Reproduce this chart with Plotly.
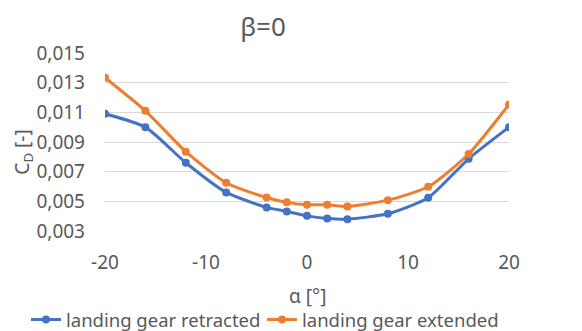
import plotly.graph_objects as go

alpha = [-20, -16, -12, -8, -4, -2, 0, 2, 4, 8, 12, 16, 20]
cd_retracted = [0.0109, 0.0100, 0.0076, 0.0056, 0.00459, 0.00432, 0.00402, 0.00385, 0.0038, 0.00416, 0.00524, 0.00787, 0.0100]
cd_extended = [0.01333, 0.0111, 0.00835, 0.00625, 0.00526, 0.00493, 0.00477, 0.00477, 0.00466, 0.00508, 0.00598, 0.00819, 0.01153]
y_ticks = [0.003, 0.005, 0.007, 0.009, 0.011, 0.013, 0.015]
y_ticklabels = ["0,003", "0,005", "0,007", "0,009", "0,011", "0,013", "0,015"]
x_ticks = [-20, -10, 0, 10, 20]
x_ticklabels = ["-20", "-10", "0", "10", "20"]

FONT = "Noto Sans"
TXT = "#595959"
W, H = 582, 331

fig = go.Figure()
fig.add_trace(go.Scatter(x=alpha, y=cd_retracted, mode="lines+markers",
                         name="landing gear retracted", legend="legend",
                         line=dict(color="#4472C4", width=3, shape="spline", smoothing=0.6),
                         marker=dict(color="#4472C4", size=8)))
fig.add_trace(go.Scatter(x=alpha, y=cd_extended, mode="lines+markers",
                         name="landing gear extended", legend="legend2",
                         line=dict(color="#ED7D31", width=3, shape="spline", smoothing=0.6),
                         marker=dict(color="#ED7D31", size=8)))

leg_common = dict(orientation="h", xref="container", yref="container",
                  xanchor="left", y=1-320/H, yanchor="middle",
                  font=dict(family=FONT, size=18.5, color=TXT),
                  bgcolor="rgba(0,0,0,0)", borderwidth=0)

fig.update_layout(
    width=W, height=H,
    margin=dict(l=104.5, r=73, t=53.3, b=100.3, autoexpand=False),
    paper_bgcolor="white", plot_bgcolor="white",
    font=dict(family=FONT, size=18, color=TXT),
    title=dict(text="β=0", x=263/W, xanchor="center", y=1-27/H, yanchor="middle",
               font=dict(family=FONT, size=26, color=TXT)),
    showlegend=True,
    legend=dict(x=26/W, **leg_common),
    legend2=dict(x=262/W, **leg_common),
)
fig.update_xaxes(range=[-20, 20], tickvals=x_ticks, ticktext=x_ticklabels,
                 showgrid=False, zeroline=False,
                 showline=False, ticks="", ticklabelstandoff=18,
                 tickfont=dict(family=FONT, size=19, color=TXT))
fig.update_yaxes(range=[0.003, 0.015], tickvals=y_ticks, ticktext=y_ticklabels,
                 showgrid=True, gridcolor="#D9D9D9", gridwidth=1.3, zeroline=False,
                 showline=False, ticks="", ticklabelstandoff=19,
                 tickfont=dict(family=FONT, size=19, color=TXT))
fig.add_annotation(text="α [°]", xref="paper", yref="paper", x=0.5,
                   y=(230.7-295)/177.4, yanchor="middle", showarrow=False,
                   font=dict(family=FONT, size=19, color=TXT))
fig.add_annotation(text="C<sub>D</sub> [-]", xref="paper", yref="paper",
                   x=(22-104.5)/404.5, xanchor="center", y=(230.7-152)/177.4,
                   yanchor="middle", textangle=-90, showarrow=False,
                   font=dict(family=FONT, size=19, color=TXT))

fig.write_html("out.html")
